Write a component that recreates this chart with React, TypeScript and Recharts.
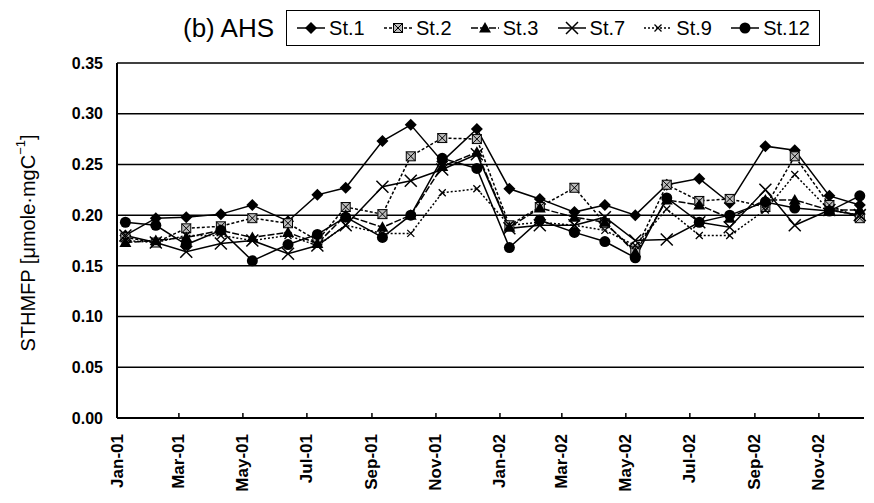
import React from "react";
import { LineChart, Line, XAxis, YAxis, CartesianGrid, Label } from "recharts";

// sampling dates
const sampleDates = [
  "2001-01-09", "2001-02-07", "2001-03-08", "2001-04-10", "2001-05-10", "2001-06-13",
  "2001-07-11", "2001-08-07", "2001-09-11", "2001-10-08", "2001-11-07", "2001-12-10",
  "2002-01-10", "2002-02-08", "2002-03-13", "2002-04-11", "2002-05-10", "2002-06-09",
  "2002-07-10", "2002-08-08", "2002-09-11", "2002-10-09", "2002-11-11", "2002-12-10",
];

const st1 = [0.180, 0.197, 0.198, 0.201, 0.210, 0.194, 0.220, 0.227, 0.273, 0.289, 0.253, 0.285, 0.226, 0.216, 0.203, 0.210, 0.200, 0.230, 0.236, 0.212, 0.268, 0.264, 0.219, 0.210];
const st2 = [0.178, 0.173, 0.187, 0.189, 0.197, 0.192, 0.175, 0.208, 0.201, 0.258, 0.276, 0.275, 0.190, 0.208, 0.227, 0.192, 0.165, 0.230, 0.214, 0.216, 0.208, 0.258, 0.210, 0.197];
const st3 = [0.173, 0.175, 0.178, 0.185, 0.178, 0.183, 0.172, 0.200, 0.188, 0.200, 0.248, 0.262, 0.188, 0.207, 0.198, 0.193, 0.163, 0.215, 0.210, 0.197, 0.215, 0.215, 0.205, 0.205];
const st7 = [0.180, 0.173, 0.164, 0.172, 0.175, 0.162, 0.170, 0.190, 0.228, 0.234, 0.245, 0.260, 0.187, 0.190, 0.190, 0.198, 0.175, 0.176, 0.193, 0.188, 0.225, 0.190, 0.205, 0.200];
const st9 = [0.175, 0.173, 0.180, 0.180, 0.175, 0.180, 0.170, 0.190, 0.182, 0.182, 0.222, 0.226, 0.190, 0.193, 0.190, 0.185, 0.170, 0.206, 0.180, 0.180, 0.205, 0.240, 0.205, 0.200];
const st12 = [0.193, 0.190, 0.171, 0.185, 0.155, 0.171, 0.181, 0.198, 0.178, 0.200, 0.256, 0.246, 0.168, 0.195, 0.183, 0.174, 0.158, 0.217, 0.193, 0.200, 0.213, 0.207, 0.204, 0.219];

const tickDates = [
  "2001-01-01", "2001-03-01", "2001-05-01", "2001-07-01", "2001-09-01", "2001-11-01",
  "2002-01-01", "2002-03-01", "2002-05-01", "2002-07-01", "2002-09-01", "2002-11-01",
];
const tickLabels = ["Jan-01", "Mar-01", "May-01", "Jul-01", "Sep-01", "Nov-01", "Jan-02", "Mar-02", "May-02", "Jul-02", "Sep-02", "Nov-02"];
const yTicks = [0, 0.05, 0.1, 0.15, 0.2, 0.25, 0.3, 0.35];

const toDay = (s: string) => {
  const [y, m, d] = s.split("-").map(Number);
  return (Date.UTC(y, m - 1, d) - Date.UTC(2001, 0, 1)) / 86400000;
};

const rows = sampleDates.map((d, i) => ({
  day: toDay(d),
  st1: st1[i], st2: st2[i], st3: st3[i], st7: st7[i], st9: st9[i], st12: st12[i],
}));
const tickDays = tickDates.map(toDay);

const FONT = "'Liberation Sans', Arial, sans-serif";

type MarkerKind = "diamond" | "hatch" | "triangle" | "cross" | "smallx" | "circle";

const Marker = ({ kind, cx, cy }: { kind: MarkerKind; cx: number; cy: number }) => {
  switch (kind) {
    case "diamond":
      return <polygon points={`${cx},${cy - 6} ${cx + 6},${cy} ${cx},${cy + 6} ${cx - 6},${cy}`} fill="#000" />;
    case "hatch":
      return (
        <g>
          <rect x={cx - 4.5} y={cy - 4.5} width={9} height={9} fill="#bbb" stroke="#000" strokeWidth={1} />
          <path d={`M${cx - 4.5},${cy - 4.5}L${cx + 4.5},${cy + 4.5}M${cx + 4.5},${cy - 4.5}L${cx - 4.5},${cy + 4.5}`} stroke="#000" strokeWidth={1} />
        </g>
      );
    case "triangle":
      return <polygon points={`${cx},${cy - 6} ${cx + 6},${cy + 4.5} ${cx - 6},${cy + 4.5}`} fill="#000" />;
    case "cross":
      return <path d={`M${cx - 6},${cy - 6}L${cx + 6},${cy + 6}M${cx + 6},${cy - 6}L${cx - 6},${cy + 6}`} stroke="#000" strokeWidth={1.5} />;
    case "smallx":
      return <path d={`M${cx - 3.5},${cy - 3.5}L${cx + 3.5},${cy + 3.5}M${cx + 3.5},${cy - 3.5}L${cx - 3.5},${cy + 3.5}`} stroke="#000" strokeWidth={1.3} />;
    default:
      return <circle cx={cx} cy={cy} r={5.5} fill="#000" />;
  }
};

const series: { key: string; name: string; kind: MarkerKind; dash?: string }[] = [
  { key: "st1", name: "St.1", kind: "diamond" },
  { key: "st2", name: "St.2", kind: "hatch", dash: "3 2" },
  { key: "st3", name: "St.3", kind: "triangle", dash: "7 2" },
  { key: "st7", name: "St.7", kind: "cross" },
  { key: "st9", name: "St.9", kind: "smallx", dash: "2 2" },
  { key: "st12", name: "St.12", kind: "circle" },
];

const XTick = (props: any) => {
  const { x, y, index } = props;
  return (
    <g>
      <line x1={x} y1={y} x2={x} y2={y - 5} stroke="#000" strokeWidth={1.5} />
      <text
        x={x}
        y={y + 16}
        transform={`rotate(-90 ${x} ${y + 16})`}
        textAnchor="end"
        dominantBaseline="central"
        fontFamily={FONT}
        fontWeight="bold"
        fontSize={17}
        fill="#000"
      >
        {tickLabels[index]}
      </text>
    </g>
  );
};

const YLabel = () => (
  <text
    x={28}
    y={243}
    transform="rotate(-90 28 243)"
    textAnchor="middle"
    dominantBaseline="central"
    fontFamily={FONT}
    fontSize={20}
    fill="#000"
  >
    STHMFP [μmole·mgC
    <tspan dy={-8} fontSize={13}>−1</tspan>
    <tspan dy={8}>]</tspan>
  </text>
);

const LegendBox = () => (
  <div
    style={{
      position: "absolute",
      left: 286,
      top: 10,
      width: 534,
      height: 36,
      border: "1.5px solid #000",
      boxSizing: "border-box",
      display: "flex",
      alignItems: "center",
      justifyContent: "space-around",
      fontFamily: FONT,
      fontSize: 20,
      background: "#fff",
    }}
  >
    {series.map((s) => (
      <span key={s.key} style={{ display: "flex", alignItems: "center" }}>
        <svg width={30} height={16}>
          <line x1={1} y1={8} x2={29} y2={8} stroke="#000" strokeWidth={1.5} strokeDasharray={s.dash} />
          <Marker kind={s.kind} cx={15} cy={8} />
        </svg>
        <span style={{ marginLeft: 3 }}>{s.name}</span>
      </span>
    ))}
  </div>
);

export default function App() {
  return (
    <div style={{ position: "absolute", left: 0, top: 0, width: 874, height: 503, background: "#fff" }}>
      <div style={{ position: "absolute", left: 183, top: 9, fontFamily: FONT, fontSize: 26, lineHeight: "38px" }}>
        (b) AHS
      </div>
      <LegendBox />
      <LineChart width={874} height={503} data={rows} margin={{ top: 63, right: 10, left: 0, bottom: 0 }}>
        <CartesianGrid horizontal vertical={false} stroke="#000" strokeWidth={1.5} strokeOpacity={1} />
        <XAxis
          type="number"
          dataKey="day"
          domain={[0, 712]}
          ticks={tickDays}
          interval={0}
          height={85}
          tickLine={false}
          tickSize={0}
          tickMargin={0}
          axisLine={{ stroke: "#000", strokeWidth: 2 }}
          tick={<XTick />}
        />
        <YAxis
          domain={[0, 0.35]}
          ticks={yTicks}
          width={117}
          tickLine={false}
          tickMargin={8}
          axisLine={{ stroke: "#000", strokeWidth: 2 }}
          tickFormatter={(v: number) => v.toFixed(2)}
          tick={{ fill: "#000", fontFamily: FONT, fontWeight: "bold", fontSize: 16 }}
        >
          <Label content={<YLabel />} />
        </YAxis>
        {series.map((s) => (
          <Line
            key={s.key}
            dataKey={s.key}
            name={s.name}
            type="linear"
            stroke="#000"
            strokeWidth={1.5}
            strokeDasharray={s.dash}
            isAnimationActive={false}
            dot={(p: any) => <Marker key={`${s.key}-${p.index}`} kind={s.kind} cx={p.cx} cy={p.cy} />}
            activeDot={false}
          />
        ))}
      </LineChart>
    </div>
  );
}
